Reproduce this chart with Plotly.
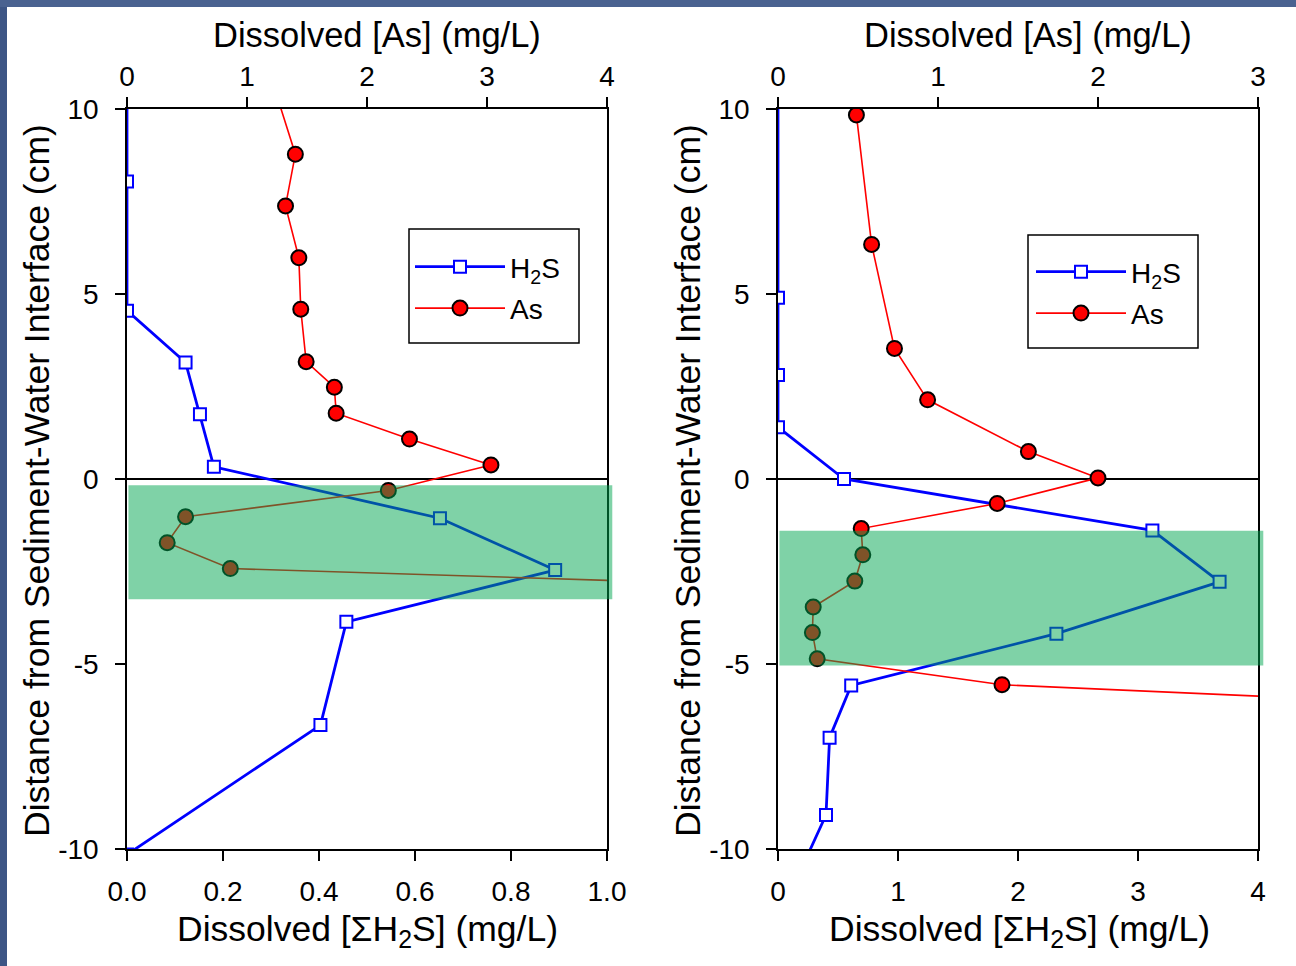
import plotly.graph_objects as go

# ---------------- data ----------------
# Left panel
h2s_L_depth = [10.6, 8.04, 4.55, 3.15, 1.75, 0.33, -1.06, -2.46, -3.86, -6.65, -10.15]
h2s_L_conc = [0.0, 0.0, 0.0, 0.122, 0.152, 0.181, 0.652, 0.892, 0.457, 0.403, 0.0]
as_L_depth = [10.5, 8.78, 7.38, 5.98, 4.59, 3.17, 2.48, 1.78, 1.08, 0.38, -0.31, -1.02, -1.72, -2.42, -2.84]
as_L_conc = [1.235, 1.403, 1.321, 1.432, 1.448, 1.493, 1.728, 1.743, 2.354, 3.033, 2.178, 0.488, 0.335, 0.861, 5.0]
band_L = [-0.17, -3.25]

# Right panel
h2s_R_depth = [10.5, 4.9, 2.81, 1.40, 0.0, -1.39, -2.78, -4.18, -5.58, -6.99, -9.08, -10.5]
h2s_R_conc = [0.0, 0.0, 0.0, 0.0, 0.55, 3.12, 3.68, 2.32, 0.61, 0.43, 0.40, 0.20]
as_R_depth = [9.84, 6.34, 3.53, 2.14, 0.74, 0.03, -0.66, -1.34, -2.05, -2.76, -3.46, -4.15, -4.86, -5.56, -6.06]
as_R_conc = [0.49, 0.585, 0.728, 0.935, 1.565, 2.0, 1.37, 0.52, 0.53, 0.48, 0.22, 0.215, 0.245, 1.40, 4.0]
band_R = [-1.40, -5.04]

y_tick_vals = [-10, -5, 0, 5, 10]
y_tick_text = ["-10", "-5", "0", "5", "10"]
xL_bottom_ticks = [0.0, 0.2, 0.4, 0.6, 0.8, 1.0]
xL_top_ticks = [0, 1, 2, 3, 4]
xR_bottom_ticks = [0, 1, 2, 3, 4]
xR_top_ticks = [0, 1, 2, 3]

series_names = ["H<sub>2</sub>S", "As"]
title_top = "Dissolved [As] (mg/L)"
title_bottom = "Dissolved [ΣH<sub>2</sub>S] (mg/L)"
title_y = "Distance from Sediment-Water Interface (cm)"

FONT = "Liberation Sans, Arial, sans-serif"
W, H = 1296, 966


def px(x):
    return x / W


def py(y):
    return 1 - y / H


BLUE = "#0000FF"
RED = "#FF0000"

fig = go.Figure()


def add_panel(h2s_x, h2s_y, as_x, as_y, xb, xt, yax, leg):
    fig.add_trace(go.Scatter(
        x=h2s_x, y=h2s_y, xaxis=xb, yaxis=yax, name=series_names[0],
        mode="lines+markers", legend=leg, legendgroup=leg + "a",
        line=dict(color=BLUE, width=2.8),
        marker=dict(symbol="square", size=12, color="white", line=dict(color=BLUE, width=2)),
    ))
    fig.add_trace(go.Scatter(
        x=as_x, y=as_y, xaxis=xt, yaxis=yax, name=series_names[1],
        mode="lines+markers", legend=leg, legendgroup=leg + "b",
        line=dict(color=RED, width=1.6),
        marker=dict(symbol="circle", size=15, color=RED, line=dict(color="black", width=2)),
    ))


add_panel(h2s_L_conc, h2s_L_depth, as_L_conc, as_L_depth, "x", "x2", "y", "legend")
add_panel(h2s_R_conc, h2s_R_depth, as_R_conc, as_R_depth, "x3", "x4", "y2", "legend2")

axis_common = dict(
    showline=True, linecolor="black", linewidth=1.5, automargin=False,
    ticks="outside", ticklen=10, tickwidth=1.5, tickcolor="black",
    showgrid=False,
    tickfont=dict(family=FONT, size=28, color="black"),
)

dL = [px(127), px(607)]
dR = [px(778), px(1258)]
dY = [py(849), py(109)]

leg_common = dict(xanchor="left", yanchor="top", borderwidth=0,
                  bgcolor="rgba(0,0,0,0)", font=dict(family=FONT, size=28, color="black"),
                  traceorder="grouped", tracegroupgap=2, itemwidth=90)

fig.update_layout(
    template="none",
    width=W, height=H,
    margin=dict(l=0, r=0, t=0, b=0, pad=0, autoexpand=False),
    paper_bgcolor="white", plot_bgcolor="white",
    font=dict(family=FONT, color="black"),
    xaxis=dict(domain=dL, range=[0, 1], anchor="y", tickvals=xL_bottom_ticks,
               tickformat=".1f", ticklabelstandoff=7, zeroline=False, **axis_common),
    xaxis2=dict(range=[0, 4], overlaying="x", side="top", anchor="y",
                tickvals=xL_top_ticks, ticklabelstandoff=0, zeroline=False, **axis_common),
    yaxis=dict(domain=dY, range=[-10, 10], anchor="x", tickvals=y_tick_vals,
               ticktext=y_tick_text, mirror=True, ticklabelstandoff=11,
               zeroline=True, zerolinecolor="black", zerolinewidth=2, **axis_common),
    xaxis3=dict(domain=dR, range=[0, 4], anchor="y2", tickvals=xR_bottom_ticks,
                ticklabelstandoff=7, zeroline=False, **axis_common),
    xaxis4=dict(range=[0, 3], overlaying="x3", side="top", anchor="y2",
                tickvals=xR_top_ticks, ticklabelstandoff=0, zeroline=False, **axis_common),
    yaxis2=dict(domain=dY, range=[-10, 10], anchor="x3", tickvals=y_tick_vals,
                ticktext=y_tick_text, mirror=True, ticklabelstandoff=11,
                zeroline=True, zerolinecolor="black", zerolinewidth=2, **axis_common),
    legend=dict(x=px(410), y=py(242), **leg_common),
    legend2=dict(x=px(1031), y=py(247), **leg_common),
    showlegend=True,
)

# slide frame strips
fig.add_shape(type="rect", xref="paper", yref="paper", x0=0, x1=px(7), y0=0, y1=1,
              fillcolor="#3d5585", line=dict(width=0), layer="below")
fig.add_shape(type="rect", xref="paper", yref="paper", x0=0, x1=1, y0=py(7), y1=1,
              fillcolor="#4a6290", line=dict(width=0), layer="below")

# legend frames
for (x0, y0, x1, y1) in ((409, 229, 579, 343), (1028, 235, 1198, 348)):
    fig.add_shape(type="rect", xref="paper", yref="paper", x0=px(x0), x1=px(x1),
                  y0=py(y1), y1=py(y0), line=dict(color="black", width=1.5),
                  fillcolor="white", layer="below")

# green bands (semi-transparent overlay)
for xr, yr, band in (("x", "y", band_L), ("x3", "y2", band_R)):
    fig.add_shape(type="rect", xref=xr + " domain", yref=yr,
                  x0=0.003, x1=1.011, y0=band[0], y1=band[1],
                  fillcolor="rgb(0,165,80)", opacity=0.5, line=dict(width=0), layer="above")

# axis titles
titles = [
    (377, 35, title_top, 0, 34.5), (367, 931, title_bottom, 0, 35.5), (37, 481, title_y, -90, 35.5),
    (1028, 35, title_top, 0, 34.5), (1019, 931, title_bottom, 0, 35.5), (688, 481, title_y, -90, 35.5),
]
for x, y, t, ang, fs in titles:
    fig.add_annotation(x=px(x), y=py(y), xref="paper", yref="paper", text=t,
                       showarrow=False, textangle=ang, xanchor="center", yanchor="middle",
                       font=dict(family=FONT, size=fs, color="black"))

fig.write_html("out.html", config={"displayModeBar": False},
               post_script="document.body.style.margin='0px';document.body.style.padding='0px';")
